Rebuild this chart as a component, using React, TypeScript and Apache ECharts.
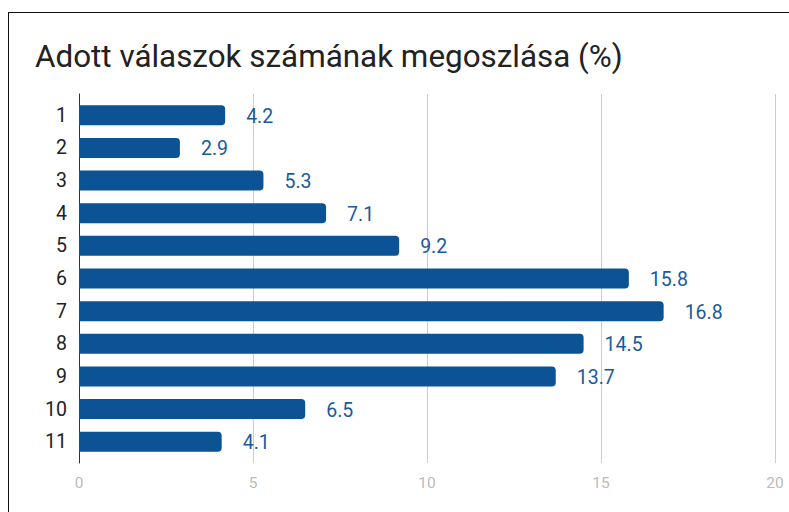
import React, { useEffect, useRef } from "react";
import * as echarts from "echarts";

const categories = ["1", "2", "3", "4", "5", "6", "7", "8", "9", "10", "11"];
const values = [4.2, 2.9, 5.3, 7.1, 9.2, 15.8, 16.8, 14.5, 13.7, 6.5, 4.1];
const xTicks = [0, 5, 10, 15, 20];
const titleText = "Adott válaszok számának megoszlása (%)";

export default function App() {
  const ref = useRef<HTMLDivElement>(null);
  useEffect(() => {
    if (!ref.current) return;
    const chart = echarts.init(ref.current, null, { renderer: "svg" });
    const font = "Roboto";
    chart.setOption({
      animation: false,
      backgroundColor: "#ffffff",
      title: {
        text: titleText,
        left: 35,
        top: 41,
        padding: 0,
        textStyle: { fontFamily: font, fontSize: 31.4, fontWeight: "normal", color: "#222222" },
      },
      grid: [
        { left: 79, right: 14, top: 99, height: 359, containLabel: false },
        { left: 79, right: 14, top: 94, height: 369, containLabel: false },
      ],
      xAxis: [
        {
          gridIndex: 0,
          type: "value",
          min: xTicks[0],
          max: xTicks[xTicks.length - 1],
          interval: 5,
          show: false,
        },
        {
          gridIndex: 1,
          type: "value",
          min: xTicks[0],
          max: xTicks[xTicks.length - 1],
          interval: 5,
          axisLine: { show: false },
          axisTick: { show: false },
          splitLine: { show: true, lineStyle: { color: "#cccccc", width: 1 } },
          axisLabel: { margin: 12, color: "#bbbbbb", fontFamily: font, fontSize: 15.5 },
        },
      ],
      yAxis: [
        {
          gridIndex: 0,
          type: "category",
          data: categories,
          inverse: true,
          axisLine: { show: false },
          axisTick: { show: false },
          axisLabel: { margin: 12, color: "#222222", fontFamily: font, fontSize: 19.5 },
        },
        {
          gridIndex: 1,
          type: "value",
          min: 0,
          max: 1,
          axisLine: { show: true, lineStyle: { color: "#333333", width: 1 } },
          axisTick: { show: false },
          axisLabel: { show: false },
          splitLine: { show: false },
        },
      ],
      series: [
        {
          type: "bar",
          xAxisIndex: 0,
          yAxisIndex: 0,
          data: values,
          barWidth: 20,
          itemStyle: { color: "#0b5394", borderRadius: [0, 4, 4, 0] },
          label: {
            show: true,
            position: "right",
            distance: 21,
            offset: [0, 1],
            color: "#1a5a9c",
            fontFamily: font,
            fontSize: 19.5,
          },
        },
      ],
    });
    return () => chart.dispose();
  }, []);
  return (
    <div style={{ position: "absolute", left: 0, top: 0, width: 789, height: 512 }}>
      <div ref={ref} style={{ position: "absolute", left: 0, top: 0, width: 789, height: 512 }} />
      <div
        style={{
          position: "absolute",
          left: 8,
          top: 12,
          width: 800,
          height: 520,
          borderTop: "1px solid #111111",
          borderLeft: "1px solid #111111",
          pointerEvents: "none",
        }}
      />
    </div>
  );
}
